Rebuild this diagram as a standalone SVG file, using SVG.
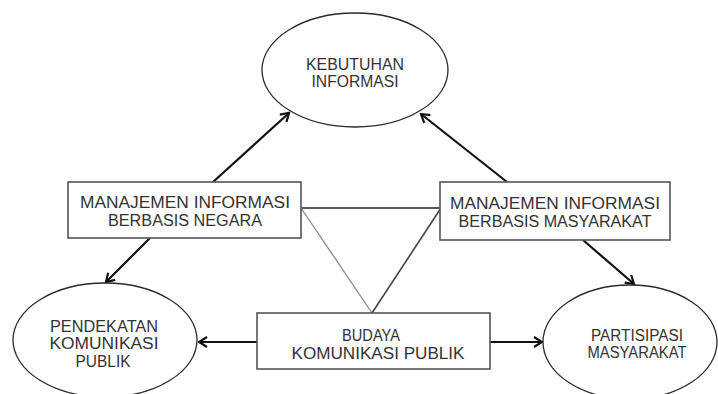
<svg xmlns="http://www.w3.org/2000/svg" width="718" height="394" viewBox="0 0 718 394">
<defs>
<style>
.ell{fill:#fff;stroke:#2a2a2a;stroke-width:1.3}
.box{fill:#fff;stroke:#555;stroke-width:1.6}
.t{font-family:"Liberation Sans",Arial,sans-serif;font-size:16px;fill:#333;text-anchor:middle}
.arr{stroke:#111;stroke-width:2.2;fill:none;marker-end:url(#ah)}
</style>
<marker id="ah" viewBox="0 0 12 12" refX="10" refY="6" markerWidth="12" markerHeight="12" markerUnits="userSpaceOnUse" orient="auto">
<path d="M2,1 L10,6 L2,11" fill="none" stroke="#111" stroke-width="2.2"/>
</marker>
</defs>
<rect width="718" height="394" fill="#fff"/>
<g id="connectors">
<line class="arr" x1="213" y1="182" x2="289" y2="113"/>
<line class="arr" x1="507" y1="182" x2="421" y2="114"/>
<line class="arr" x1="150" y1="238" x2="106" y2="282"/>
<line class="arr" x1="583" y1="240" x2="634" y2="284"/>
<line class="arr" x1="257" y1="342" x2="199" y2="342"/>
<line class="arr" x1="490" y1="342" x2="542" y2="342"/>
<line x1="301" y1="208" x2="441" y2="208" stroke="#222" stroke-width="1.5"/>
<line x1="301" y1="208" x2="372" y2="313" stroke="#888" stroke-width="1.3"/>
<line x1="441" y1="208" x2="372" y2="313" stroke="#444" stroke-width="1.6"/>
</g>
<g id="kebutuhan">
<ellipse class="ell" cx="355" cy="70" rx="93" ry="57"/>
<text class="t" x="355" y="70" textLength="98" lengthAdjust="spacingAndGlyphs">KEBUTUHAN</text>
<text class="t" x="355" y="87" textLength="87" lengthAdjust="spacingAndGlyphs">INFORMASI</text>
</g>
<g id="negara">
<rect class="box" x="68" y="182" width="233" height="56"/>
<text class="t" x="185" y="208" textLength="210" lengthAdjust="spacingAndGlyphs">MANAJEMEN INFORMASI</text>
<text class="t" x="185" y="226" textLength="154" lengthAdjust="spacingAndGlyphs">BERBASIS NEGARA</text>
</g>
<g id="masyarakat">
<rect class="box" x="440" y="182" width="230" height="58"/>
<text class="t" x="555" y="209" textLength="210" lengthAdjust="spacingAndGlyphs">MANAJEMEN INFORMASI</text>
<text class="t" x="555" y="227" textLength="193" lengthAdjust="spacingAndGlyphs">BERBASIS MASYARAKAT</text>
</g>
<g id="budaya">
<rect class="box" x="257" y="313" width="233" height="56"/>
<text class="t" x="371" y="341" textLength="58" lengthAdjust="spacingAndGlyphs">BUDAYA</text>
<text class="t" x="378" y="359" textLength="173" lengthAdjust="spacingAndGlyphs">KOMUNIKASI PUBLIK</text>
</g>
<g id="pendekatan">
<ellipse class="ell" cx="105" cy="340" rx="92" ry="57"/>
<text class="t" x="104" y="332" textLength="108" lengthAdjust="spacingAndGlyphs">PENDEKATAN</text>
<text class="t" x="104" y="349" textLength="109" lengthAdjust="spacingAndGlyphs">KOMUNIKASI</text>
<text class="t" x="103" y="367" textLength="55" lengthAdjust="spacingAndGlyphs">PUBLIK</text>
</g>
<g id="partisipasi">
<ellipse class="ell" cx="630" cy="342" rx="87" ry="57"/>
<text class="t" x="637" y="341" textLength="92" lengthAdjust="spacingAndGlyphs">PARTISIPASI</text>
<text class="t" x="637" y="358" textLength="99" lengthAdjust="spacingAndGlyphs">MASYARAKAT</text>
</g>
</svg>
